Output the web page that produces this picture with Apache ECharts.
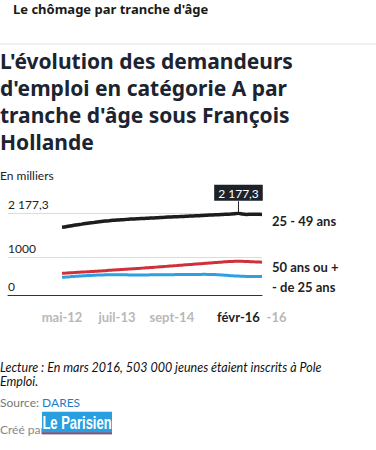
<!DOCTYPE html>
<html><head><meta charset="utf-8">
<script src="https://cdn.jsdelivr.net/npm/echarts@6/dist/echarts.min.js"></script>
<style>html,body{margin:0;padding:0;background:#fff}#c{width:376px;height:450px}</style>
</head><body><div id="c"></div>
<script>
// Monthly categories, mai-12 .. août-16
const months = ['mai-12','juin-12','juil-12','août-12','sept-12','oct-12','nov-12','déc-12',
 'janv-13','févr-13','mars-13','avr-13','mai-13','juin-13','juil-13','août-13','sept-13','oct-13','nov-13','déc-13',
 'janv-14','févr-14','mars-14','avr-14','mai-14','juin-14','juil-14','août-14','sept-14','oct-14','nov-14','déc-14',
 'janv-15','févr-15','mars-15','avr-15','mai-15','juin-15','juil-15','août-15','sept-15','oct-15','nov-15','déc-15',
 'janv-16','févr-16','mars-16','avr-16','mai-16','juin-16','juil-16','août-16'];
const seriesNames = ['25 - 49 ans', '50 ans ou +', '- de 25 ans'];
// values in thousands
const age25to49 = [1805,1820,1840,1858,1875,1890,1905,1918,1930,1945,1958,1970,1980,1990,1998,2005,2012,2020,
 2026,2032,2038,2042,2048,2052,2058,2064,2070,2078,2082,2086,2090,2095,2100,2105,2110,2115,2120,2128,
 2132,2138,2142,2148,2152,2158,2165,2177.3,2158,2148,2150,2152,2150,2148];
const age50plus = [584,590,597,603,610,616,622,628,635,641,648,655,662,669,676,683,690,697,704,711,718,725,
 732,740,748,756,764,772,780,788,796,804,812,820,828,836,844,852,860,868,876,884,892,898,902,905,903,898,893,888,884,880];
const under25 = [478,485,492,500,507,514,520,526,531,536,540,543,545,546,547,546,544,542,541,540,540,541,
 542,543,544,545,546,547,548,549,550,551,552,553,554,555,556,555,553,550,545,538,530,522,515,510,505,500,499,498,497,497];
const yTicks = [0, 1000, 2177.3];
const xTicks = [0, 14, 28, 51];
const highlightIndex = 45;
const headingLines = ["L'évolution des demandeurs", "d'emploi en catégorie A par", "tranche d'âge sous François", "Hollande"];

function fmtNum(v){
  if (v === 2177.3) return '2 177,3';
  return String(v);
}
const chart = echarts.init(document.getElementById('c'), null, {renderer:'svg'});
const F = 'Lato, "Noto Sans", sans-serif';
const FH = '"Noto Sans", "Open Sans", sans-serif';
function pts(arr){ return arr.map((v,i)=>[i,v]); }
const endLbl = (dy)=>({show:true, formatter:'{a}', distance:10, offset:[0,dy], color:'#222', fontWeight:'bold', fontSize:13, fontFamily:F});
const lastIdx = months.length - 1;
chart.setOption({
  animation:false,
  textStyle:{fontFamily:F},
  grid:{left:8, right:114, top:213.3, bottom:154.7, containLabel:false},
  xAxis:{type:'value', min:-13.78, max:51,
    axisLine:{show:true, lineStyle:{color:'#333', width:1}},
    axisTick:{show:false}, splitLine:{show:false},
    axisLabel:{customValues:xTicks, hideOverlap:false, showMinLabel:true, showMaxLabel:true, margin:15,
      fontFamily:F, fontSize:13, fontWeight:'bold', color:'#b8b8b8',
      formatter:(v)=>{ const i=Math.round(v); const s=months[i];
        // the last label is partly hidden behind the highlighted month: only its end shows
        if(i===lastIdx) return '{t|'+s.slice(s.indexOf('-'))+'}';
        return s; },
      rich:{t:{color:'#b8b8b8', fontWeight:'bold', fontSize:13, fontFamily:F, padding:[0,0,0,29]}}}},
  yAxis:{type:'value', min:0, max:2177.3,
    axisLine:{show:false}, axisTick:{show:false, customValues:yTicks},
    splitLine:{show:true, lineStyle:{color:'#dcdcdc', width:1}},
    axisLabel:{customValues:yTicks, inside:true, margin:0, verticalAlign:'bottom', padding:[0,0,3,0],
      fontFamily:F, fontSize:12, color:'#222', formatter:fmtNum}},
  series:[
    {name:seriesNames[0], type:'line', data:pts(age25to49), showSymbol:false, smooth:0.2,
      lineStyle:{color:'#1b1d1f', width:3.5}, itemStyle:{color:'#1b1d1f'},
      endLabel:endLbl(7),
      markPoint:{symbol:'circle', symbolSize:1, itemStyle:{color:'#1c2229'},
        data:[{coord:[highlightIndex, age25to49[highlightIndex]], value:age25to49[highlightIndex]}],
        label:{show:true, position:'top', distance:12, formatter:(p)=>fmtNum(p.value),
          backgroundColor:'#1c2229', color:'#fff', fontFamily:F, fontSize:12, padding:[2,4,1,4], lineHeight:13}}},
    {name:seriesNames[1], type:'line', data:pts(age50plus), showSymbol:false, smooth:0.2,
      lineStyle:{color:'#d0303a', width:3}, itemStyle:{color:'#d0303a'}, endLabel:endLbl(4.4)},
    {name:seriesNames[2], type:'line', data:pts(under25), showSymbol:false, smooth:0.2,
      lineStyle:{color:'#2ea0e2', width:3}, itemStyle:{color:'#2ea0e2'}, endLabel:endLbl(10.6)}
  ]
});
const p = chart.convertToPixel({gridIndex:0}, [highlightIndex, age25to49[highlightIndex]]);
const axisY = chart.convertToPixel({gridIndex:0}, [highlightIndex, 0])[1];
const g = [
  {type:'text', left:13, top:2, style:{text:"Le chômage par tranche d'âge", font:'bold 13px '+FH, fill:'#1a1a1a'}},
  {type:'line', shape:{x1:0,y1:44,x2:376,y2:44}, style:{stroke:'#e2e2e2', lineWidth:1}},
  {type:'text', left:0, top:169, style:{text:'En milliers', font:'12px '+F, fill:'#222'}},
  {type:'line', shape:{x1:p[0],y1:p[1]-12,x2:p[0],y2:p[1]}, style:{stroke:'#1c2229', lineWidth:1}},
  {type:'text', x:p[0], y:axisY+21.5, z:100, style:{text:months[highlightIndex], font:'bold 13px '+F, fill:'#222',
     align:'center', verticalAlign:'middle'}},
  {type:'text', left:0, top:361, style:{text:'Lecture : En mars 2016, 503 000 jeunes étaient inscrits à Pole', font:'italic 12.5px '+F, fill:'#111'}},
  {type:'text', left:0, top:375, style:{text:'Emploi.', font:'italic 12.5px '+F, fill:'#111'}},
  {type:'text', left:0, top:396, style:{text:'{g|Source: }{b|DARES}', rich:{g:{fill:'#777', font:'12px '+F}, b:{fill:'#1f7dc6', font:'12px '+F}}}},
  {type:'text', left:0, top:423, style:{text:'Créé par', font:'12px '+F, fill:'#888'}},
  {type:'rect', shape:{x:42, y:411.7, width:70, height:22.6}, style:{fill:'#2a9fdf'}},
  {type:'rect', shape:{x:42, y:432.5, width:70, height:1.8}, style:{fill:'#c43a4d'}},
  {type:'text', x:77, y:422.5, scaleX:0.72, style:{text:'Le Parisien', font:'bold 18px "Liberation Sans", sans-serif', fill:'#fff', align:'center', verticalAlign:'middle'}}
];
headingLines.forEach((t,i)=>g.push({type:'text', left:0, top:50+27*i, style:{text:t, font:'bold 21px '+FH, fill:'#1b2430'}}));
chart.setOption({graphic:g});
</script></body></html>
